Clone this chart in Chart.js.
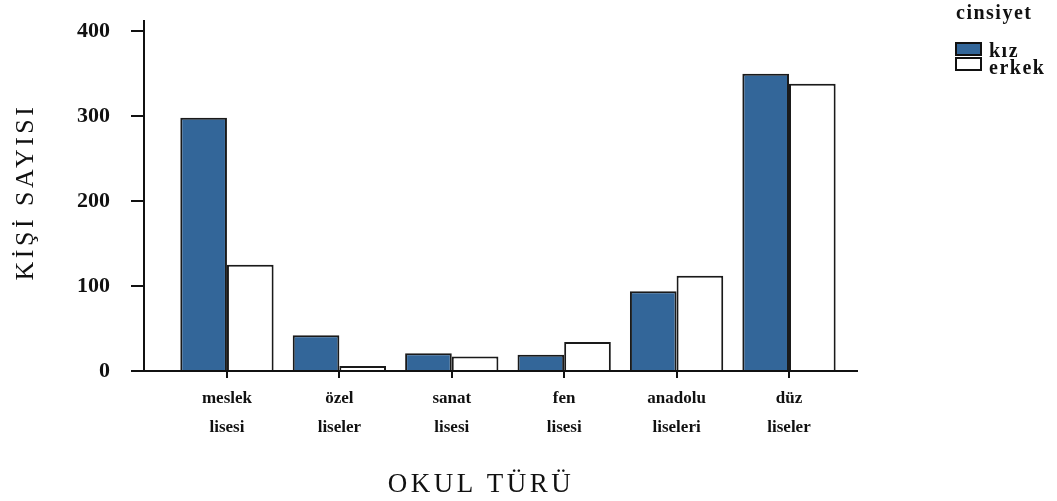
<!DOCTYPE html>
<html>
<head>
<meta charset="utf-8">
<script src="https://cdn.jsdelivr.net/npm/chart.js@4/dist/chart.umd.min.js"></script>
<style>
  body { margin: 0; background: #fff; }
  canvas { display: block; }
</style>
</head>
<body>
<canvas id="barChart" width="1057" height="501"></canvas>
<script>
const categories = ['meslek lisesi', 'özel liseler', 'sanat lisesi', 'fen lisesi', 'anadolu liseleri', 'düz liseler'];
const kiz = [298, 42, 21, 19, 94, 350];
const erkek = [125, 6, 17, 34, 112, 338];
const yTicks = [0, 100, 200, 300, 400];
const seriesNames = ['kız', 'erkek'];

const serif = "'Liberation Serif', 'Times New Roman', serif";

// one point per school type, x = category index
const toPoints = vals => vals.map((v, i) => ({ x: i, y: v }));

// titles and the legend box on the right
const decorations = {
    id: 'decorations',
    afterDraw(chart) {
        const ctx = chart.ctx;

        ctx.save();
        ctx.fillStyle = '#111';
        ctx.textAlign = 'center';
        ctx.textBaseline = 'middle';
        ctx.letterSpacing = '3.5px';
        ctx.font = '27px ' + serif;
        ctx.fillText('OKUL TÜRÜ', 481, 485);

        ctx.font = '26px ' + serif;
        ctx.translate(26, 192);
        ctx.rotate(-Math.PI / 2);
        ctx.fillText('KİŞİ SAYISI', 0, 0);
        ctx.restore();

        // legend
        ctx.save();
        ctx.textAlign = 'left';
        ctx.textBaseline = 'alphabetic';
        ctx.fillStyle = '#111';
        ctx.letterSpacing = '1.5px';
        ctx.font = 'bold 20px ' + serif;
        ctx.fillText('cinsiyet', 956, 19);
        chart.data.datasets.forEach((ds, i) => {
            const y = 43 + i * 15;
            ctx.fillStyle = ds.backgroundColor;
            ctx.fillRect(956, y, 25, 12);
            ctx.strokeStyle = '#111';
            ctx.lineWidth = 2;
            ctx.strokeRect(956, y, 25, 12);
            ctx.fillStyle = '#111';
            ctx.fillText(ds.label, 989, y + 14 + i * 2);
        });
        ctx.restore();
    }
};

new Chart(document.getElementById('barChart').getContext('2d'), {
    type: 'bar',
    data: {
        datasets: [{
            label: seriesNames[0],
            data: toPoints(kiz),
            backgroundColor: '#336699',
            borderColor: '#1a1a1a',
            borderWidth: 2
        }, {
            label: seriesNames[1],
            data: toPoints(erkek),
            backgroundColor: '#ffffff',
            borderColor: '#1a1a1a',
            borderWidth: 2
        }]
    },
    options: {
        responsive: false,
        animation: false,
        categoryPercentage: 0.83,
        barPercentage: 1.0,
        layout: {
            padding: { top: 21, right: 200, left: 0, bottom: 0 }
        },
        plugins: {
            legend: { display: false },
            tooltip: { enabled: false }
        },
        scales: {
            x: {
                type: 'linear',
                min: -0.738,
                max: 5.605,
                offset: false,
                grid: {
                    offset: false,
                    drawOnChartArea: false,
                    drawTicks: true,
                    tickLength: 7,
                    color: '#111',
                    lineWidth: 2
                },
                border: { display: true, color: '#111', width: 2 },
                ticks: {
                    stepSize: 1,
                    includeBounds: false,
                    autoSkip: false,
                    maxRotation: 0,
                    padding: 6,
                    color: '#111',
                    font: { family: serif, size: 17, weight: 'bold', lineHeight: 1.7 },
                    callback: function(value) {
                        const name = categories[value];
                        return name ? name.split(' ') : '';
                    }
                },
                afterFit: function(scale) { scale.height = 130; }
            },
            y: {
                min: 0,
                max: 412,
                grid: {
                    drawOnChartArea: false,
                    drawTicks: true,
                    tickLength: 13,
                    color: '#111',
                    lineWidth: 2
                },
                border: { display: true, color: '#111', width: 2 },
                afterBuildTicks: function(scale) {
                    scale.ticks = yTicks.map(v => ({ value: v }));
                },
                ticks: {
                    padding: 21,
                    color: '#111',
                    font: { family: serif, size: 22, weight: 'bold' }
                },
                afterFit: function(scale) {
                    scale.width = 144;
                    scale.paddingTop = 0;
                    scale.paddingBottom = 0;
                }
            }
        }
    },
    plugins: [decorations]
});
</script>
</body>
</html>
